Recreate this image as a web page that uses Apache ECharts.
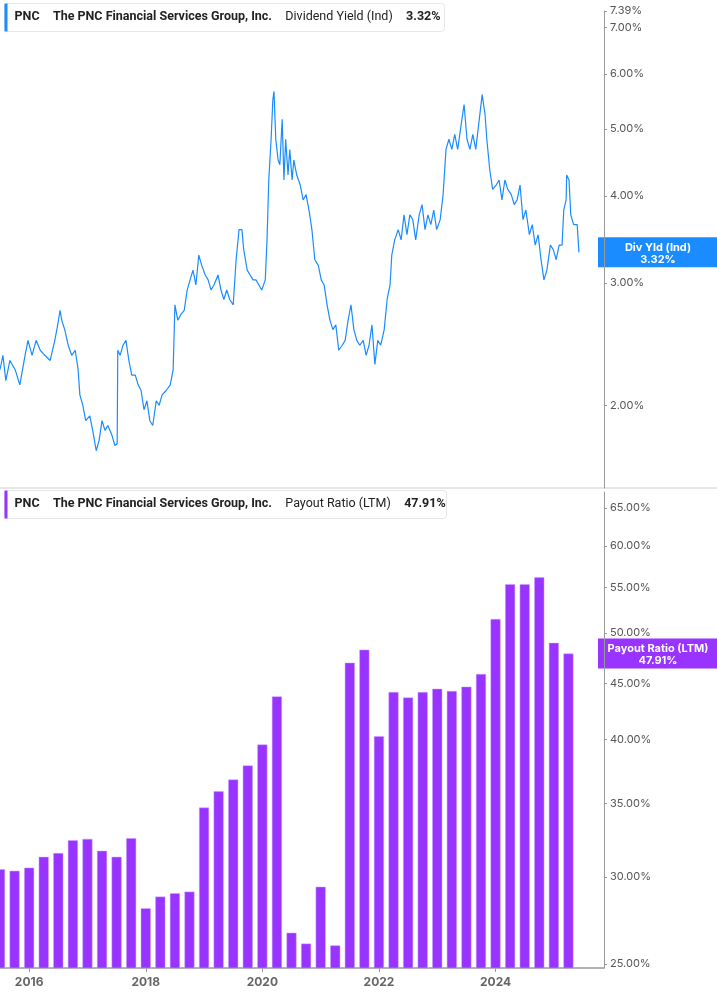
<!DOCTYPE html>
<html><head><meta charset="utf-8">
<script src="https://cdn.jsdelivr.net/npm/echarts@6/dist/echarts.min.js"></script>
<style>html,body{margin:0;padding:0;background:#fff}#c{width:717px;height:1005px}</style>
</head><body><div id="c"></div>
<script>
// dividend yield (decimal year, %)
var yieldPts = [
  [2015.50,2.25],[2015.55,2.36],[2015.60,2.17],[2015.67,2.32],[2015.76,2.25],[2015.84,2.14],[2015.93,2.36],[2015.98,2.48],
  [2016.05,2.36],[2016.12,2.48],[2016.19,2.40],[2016.27,2.36],[2016.36,2.32],[2016.44,2.48],[2016.49,2.61],[2016.53,2.74],
  [2016.56,2.65],[2016.61,2.57],[2016.67,2.44],[2016.73,2.36],[2016.79,2.40],[2016.84,2.25],[2016.87,2.07],[2016.92,2.00],
  [2016.97,1.90],[2017.04,1.93],[2017.09,1.84],[2017.15,1.72],[2017.20,1.78],[2017.25,1.90],[2017.30,1.84],[2017.35,1.87],
  [2017.42,1.81],[2017.47,1.75],[2017.51,1.76],[2017.52,2.40],[2017.56,2.36],[2017.61,2.44],[2017.66,2.48],[2017.71,2.32],
  [2017.76,2.21],[2017.82,2.21],[2017.87,2.14],[2017.92,2.10],[2017.97,1.97],[2018.02,2.03],[2018.07,1.90],[2018.12,1.87],
  [2018.18,2.03],[2018.23,2.00],[2018.28,2.07],[2018.35,2.10],[2018.42,2.14],[2018.47,2.25],[2018.50,2.79],[2018.55,2.65],
  [2018.60,2.70],[2018.66,2.74],[2018.71,2.93],[2018.76,3.03],[2018.81,3.13],[2018.86,2.98],[2018.91,3.29],[2018.96,3.18],
  [2019.02,3.08],[2019.07,3.03],[2019.12,2.93],[2019.17,2.98],[2019.24,3.08],[2019.29,2.93],[2019.34,2.84],[2019.39,2.93],
  [2019.44,2.84],[2019.50,2.79],[2019.55,3.24],[2019.60,3.58],[2019.65,3.58],[2019.68,3.35],[2019.74,3.13],[2019.79,3.08],
  [2019.84,3.03],[2019.89,3.03],[2019.94,2.98],[2019.99,2.93],[2020.05,3.03],[2020.08,3.46],[2020.11,4.22],[2020.15,4.83],
  [2020.18,5.51],[2020.20,5.66],[2020.23,4.83],[2020.27,4.51],[2020.30,4.44],[2020.34,5.16],[2020.37,4.22],[2020.40,4.83],
  [2020.44,4.29],[2020.47,4.67],[2020.51,4.22],[2020.54,4.51],[2020.59,4.29],[2020.65,4.15],[2020.70,3.95],[2020.75,4.02],
  [2020.80,3.82],[2020.85,3.58],[2020.90,3.24],[2020.96,3.18],[2021.01,3.03],[2021.06,2.98],[2021.11,2.79],[2021.16,2.65],
  [2021.21,2.57],[2021.26,2.61],[2021.31,2.40],[2021.37,2.44],[2021.42,2.48],[2021.47,2.65],[2021.52,2.79],[2021.57,2.57],
  [2021.62,2.48],[2021.67,2.44],[2021.73,2.48],[2021.78,2.36],[2021.83,2.44],[2021.88,2.61],[2021.93,2.29],[2021.98,2.48],
  [2022.03,2.44],[2022.09,2.57],[2022.14,2.84],[2022.19,2.98],[2022.22,3.29],[2022.27,3.46],[2022.33,3.58],[2022.38,3.46],
  [2022.43,3.76],[2022.48,3.52],[2022.53,3.76],[2022.58,3.70],[2022.63,3.46],[2022.69,3.76],[2022.74,3.89],[2022.79,3.58],
  [2022.84,3.76],[2022.89,3.64],[2022.94,3.82],[2022.99,3.58],[2023.05,3.70],[2023.10,4.02],[2023.15,4.67],[2023.20,4.83],
  [2023.25,4.67],[2023.30,4.91],[2023.35,4.67],[2023.41,5.07],[2023.46,5.42],[2023.51,4.83],[2023.56,4.67],[2023.61,4.91],
  [2023.66,4.67],[2023.71,5.07],[2023.77,5.60],[2023.82,5.24],[2023.85,4.83],[2023.90,4.37],[2023.95,4.09],[2024.01,4.15],
  [2024.06,4.22],[2024.11,3.95],[2024.16,4.22],[2024.21,4.09],[2024.27,4.02],[2024.32,3.89],[2024.37,3.95],[2024.42,4.15],
  [2024.47,3.70],[2024.52,3.82],[2024.58,3.52],[2024.63,3.64],[2024.68,3.40],[2024.73,3.52],[2024.78,3.24],[2024.83,3.03],
  [2024.88,3.13],[2024.94,3.40],[2024.99,3.35],[2025.04,3.24],[2025.09,3.40],[2025.14,3.40],[2025.17,3.82],[2025.21,3.95],
  [2025.22,4.29],[2025.26,4.22],[2025.29,3.76],[2025.34,3.64],[2025.40,3.64],[2025.43,3.32]
];
// payout ratio, quarterly
var payoutDates = [
  2015.50,2015.75,2016.00,2016.25,2016.50,2016.75,2017.00,2017.25,2017.50,2017.75,
  2018.00,2018.25,2018.50,2018.75,2019.00,2019.25,2019.50,2019.75,2020.00,2020.25,
  2020.50,2020.75,2021.00,2021.25,2021.50,2021.75,2022.00,2022.25,2022.50,2022.75,
  2023.00,2023.25,2023.50,2023.75,2024.00,2024.25,2024.50,2024.75,2025.00,2025.25
];
var payoutVals = [
  30.5,30.4,30.6,31.3,31.55,32.4,32.5,31.7,31.3,32.55,
  28.1,28.8,29.0,29.1,34.7,35.9,36.8,37.9,39.6,43.8,
  26.7,26.1,29.4,26.0,47.0,48.3,40.3,44.2,43.7,44.2,
  44.5,44.3,44.7,45.9,51.5,55.4,55.4,56.2,49.0,47.91
];
var yieldTicks = [2, 3, 4, 5, 6, 7, 7.39];
var payoutTicks = [25, 30, 35, 40, 45, 50, 55, 60, 65];
var yearTicks = [2016, 2018, 2020, 2022, 2024];

var BLUE = '#1a8cff', PURPLE = '#9933ff', FONT = 'Roboto';
var chart = echarts.init(document.getElementById('c'));

function yAx(gi, min, max, ticks) {
  return {
    type: 'log', gridIndex: gi, position: 'right', min: min, max: max,
    axisLine: {show: true, lineStyle: {color: '#999'}},
    axisTick: {show: true, customValues: ticks, length: 3, lineStyle: {color: '#999'}},
    axisLabel: {customValues: ticks, color: '#555', fontFamily: 'Inter', fontSize: 11, margin: 6,
      formatter: function (v) { return v.toFixed(2) + '%'; }},
    splitLine: {show: false}
  };
}
function xAx(gi, show) {
  return {
    type: 'value', gridIndex: gi, min: 2015.5, max: 2025.86,
    axisLine: {show: show, lineStyle: {color: '#999', width: 1.5}},
    axisTick: {show: show, customValues: yearTicks, length: 4, lineStyle: {color: '#999'}},
    axisLabel: {show: show, customValues: yearTicks, color: '#666', fontWeight: 'bold', fontFamily: 'Inter', fontSize: 12,
      formatter: function (v) { return String(Math.round(v)); }},
    splitLine: {show: false}
  };
}

chart.setOption({
  animation: false,
  grid: [
    {left: 0, right: 113, top: 11, height: 477},
    {left: 0, right: 113, top: 492, bottom: 37}
  ],
  xAxis: [xAx(0, false), xAx(1, true)],
  yAxis: [yAx(0, 1.52, 7.39, yieldTicks), yAx(1, 24.8, 67.2, payoutTicks)],
  series: [
    {type: 'line', xAxisIndex: 0, yAxisIndex: 0, data: yieldPts, showSymbol: false,
      lineStyle: {color: BLUE, width: 1.2}},
    {type: 'bar', xAxisIndex: 1, yAxisIndex: 1, barWidth: 10,
      data: payoutDates.map(function (d, i) { return [d, payoutVals[i]]; }),
      itemStyle: {color: PURPLE, borderColor: '#c9a0ff', borderWidth: 0.5}}
  ]
});

function legendBox(top, width, color, title, val) {
  return {type: 'group', left: 4, top: top, children: [
    {type: 'rect', shape: {x: 0, y: 0, width: width, height: 28, r: 3},
      style: {fill: '#fff', stroke: '#e6e6e6', lineWidth: 1}},
    {type: 'rect', shape: {x: 0, y: 0, width: 3, height: 28}, style: {fill: color}},
    {type: 'text', x: 10, y: 7, style: {
      text: '{b|PNC}    {b|The PNC Financial Services Group, Inc.}    {n|' + title + '}    {b|' + val + '}',
      rich: {
        b: {fontFamily: FONT, fontWeight: 'bold', fontSize: 12.5, fill: '#222'},
        n: {fontFamily: FONT, fontSize: 12.5, fill: '#222'}
      }}}
  ]};
}
var lastYield = yieldPts[yieldPts.length - 1][1];
var lastPayout = payoutVals[payoutVals.length - 1];
var lastY = chart.convertToPixel({yAxisIndex: 0}, lastYield);
var lastP = chart.convertToPixel({yAxisIndex: 1}, lastPayout);
function tag(y, color, l1, l2) {
  return {type: 'group', left: 598, top: y - 15, children: [
    {type: 'rect', shape: {x: 0, y: 0, width: 119, height: 30}, style: {fill: color}},
    {type: 'text', x: 60, y: 4, style: {text: l1 + '\n' + l2, align: 'center', font: 'bold 11px Inter', fill: '#fff', lineHeight: 12}}
  ]};
}
chart.setOption({graphic: [
  {type: 'line', shape: {x1: 0, y1: 488, x2: 717, y2: 488}, style: {stroke: '#ccc', lineWidth: 1}},
  legendBox(3, 440, BLUE, 'Dividend Yield (Ind)', lastYield.toFixed(2) + '%'),
  legendBox(490, 442, PURPLE, 'Payout Ratio (LTM)', lastPayout.toFixed(2) + '%'),
  tag(lastY, BLUE, 'Div Yld (Ind)', lastYield.toFixed(2) + '%'),
  tag(lastP, PURPLE, 'Payout Ratio (LTM)', lastPayout.toFixed(2) + '%')
]});
</script></body></html>
